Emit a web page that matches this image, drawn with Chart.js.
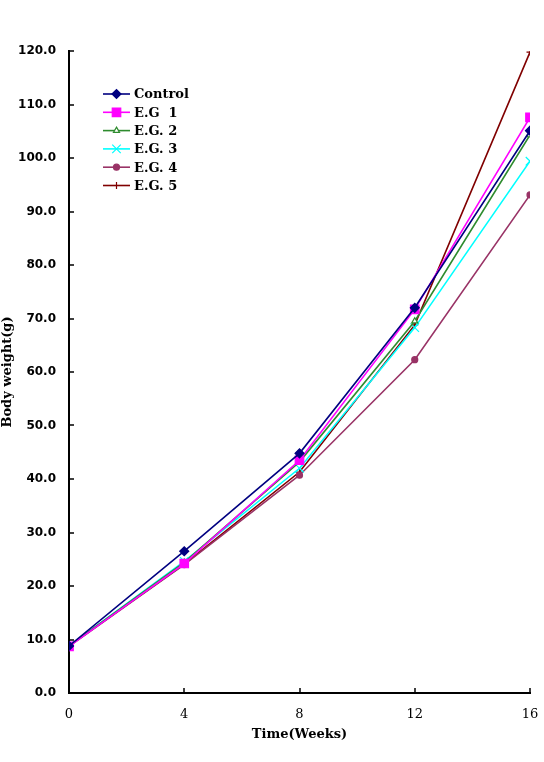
<!DOCTYPE html>
<html>
<head>
<meta charset="utf-8">
<script src="https://cdn.jsdelivr.net/npm/chart.js@4/dist/chart.umd.min.js"></script>
<style>
html,body{margin:0;padding:0;background:#fff}
#wrap{width:544px;height:762px}
</style>
</head>
<body>
<div id="wrap"><canvas id="chart1"></canvas></div>
<script>
const weeks = [0, 4, 8, 12, 16]
const control = [8.8, 26.5, 44.8, 72.0, 105.1]
const eg1 = [8.7, 24.2, 43.5, 71.7, 107.6]
const eg2 = [8.8, 24.4, 43.2, 69.5, 104.3]
const eg3 = [8.8, 24.6, 42.0, 68.3, 99.4]
const eg4 = [8.7, 24.0, 40.7, 62.3, 93.1]
const eg5 = [8.8, 24.1, 41.3, 68.8, 119.8]

const series = [
{name:"Control", values:control, color:"#000080", style:"rectRot", r:4.5, fill:"#000080"},
{name:"E.G  1", values:eg1, color:"#ff00ff", style:"rect", r:6, fill:"#ff00ff"},
{name:"E.G. 2", values:eg2, color:"#2e8b2e", style:"triangle", r:3.5, fill:"#ffffff"},
{name:"E.G. 3", values:eg3, color:"#00ffff", style:"crossRot", r:6, fill:"#00ffff"},
{name:"E.G. 4", values:eg4, color:"#993366", style:"circle", r:3, fill:"#993366"},
{name:"E.G. 5", values:eg5, color:"#800000", style:"cross", r:3.5, fill:"#800000"},
]

var datasets = series.map(s=>({
  label:s.name,
  data:weeks.map((w,i)=>({x:w, y:s.values[i]})),
  borderColor:s.color,
  backgroundColor:s.fill,
  borderWidth:1.6,
  tension:0,
  pointStyle:s.style,
  pointRadius:s.r,
  pointBorderColor:s.color,
  pointBackgroundColor:s.fill,
  pointBorderWidth:1.2
}))

// inward ticks + legend inside the plot
const extras = {
  id:'extras',
  afterDraw(chart){
    const ctx = chart.ctx, a = chart.chartArea
    const xs = chart.scales.x, ys = chart.scales.y
    ctx.save()
    ctx.strokeStyle = '#000'
    ctx.lineWidth = 1.5
    ctx.beginPath()
    ys.ticks.forEach(t=>{
      const y = Math.round(ys.getPixelForValue(t.value))
      ctx.moveTo(a.left, y); ctx.lineTo(a.left+5, y)
    })
    xs.ticks.forEach(t=>{
      const x = Math.round(xs.getPixelForValue(t.value))
      ctx.moveTo(x, a.bottom); ctx.lineTo(x, a.bottom-5)
    })
    ctx.stroke()

    // legend
    const lx = a.left + 34, ly = 94, step = 18.3
    series.forEach((s,i)=>{
      const y = ly + i*step
      ctx.strokeStyle = s.color
      ctx.lineWidth = 1.6
      ctx.beginPath(); ctx.moveTo(lx, y); ctx.lineTo(lx+27, y); ctx.stroke()
      ctx.fillStyle = s.fill
      ctx.lineWidth = 1.2
      Chart.helpers.drawPoint(ctx, {pointStyle:s.style, radius:s.r, borderWidth:1.2, rotation:0}, lx+13.5, y)
      ctx.fillStyle = '#000'
      ctx.font = 'bold 13px "DejaVu Serif"'
      ctx.textBaseline = 'middle'
      ctx.fillText(s.name, lx+31, y+1)
    })
    ctx.restore()
  }
}

new Chart(document.getElementById('chart1'), {
  type:'line',
  data:{datasets:datasets},
  plugins:[extras],
  options:{
    animation:false,
    responsive:true,
    maintainAspectRatio:false,
    layout:{padding:{top:51, right:14, left:0, bottom:0}},
    plugins:{legend:{display:false}, tooltip:{enabled:false}},
    scales:{
      x:{
        type:'linear', min:0, max:16,
        afterFit:function(s){ s.height = 69; s.paddingLeft = 0; s.paddingRight = 0 },
        border:{display:true, color:'#000', width:2},
        grid:{display:false, drawTicks:false},
        ticks:{stepSize:4, padding:14, color:'#000', font:{family:'"DejaVu Serif"', size:13}},
        title:{display:true, text:'Time(Weeks)', color:'#000', padding:{top:4, bottom:20},
          font:{family:'"DejaVu Serif"', size:13, weight:'bold'}}
      },
      y:{
        min:0, max:120,
        afterFit:function(s){ s.width = 69 },
        border:{display:true, color:'#000', width:2},
        grid:{display:false, drawTicks:false},
        ticks:{stepSize:10, padding:13, color:'#000',
          font:{family:'"DejaVu Sans"', size:12, weight:'bold'},
          callback:function(v){ return v.toFixed(1) }},
        title:{display:true, text:'Body weight(g)', color:'#000', padding:0,
          font:{family:'"DejaVu Serif"', size:13, weight:'bold'}}
      }
    }
  }
})
</script>
</body>
</html>
